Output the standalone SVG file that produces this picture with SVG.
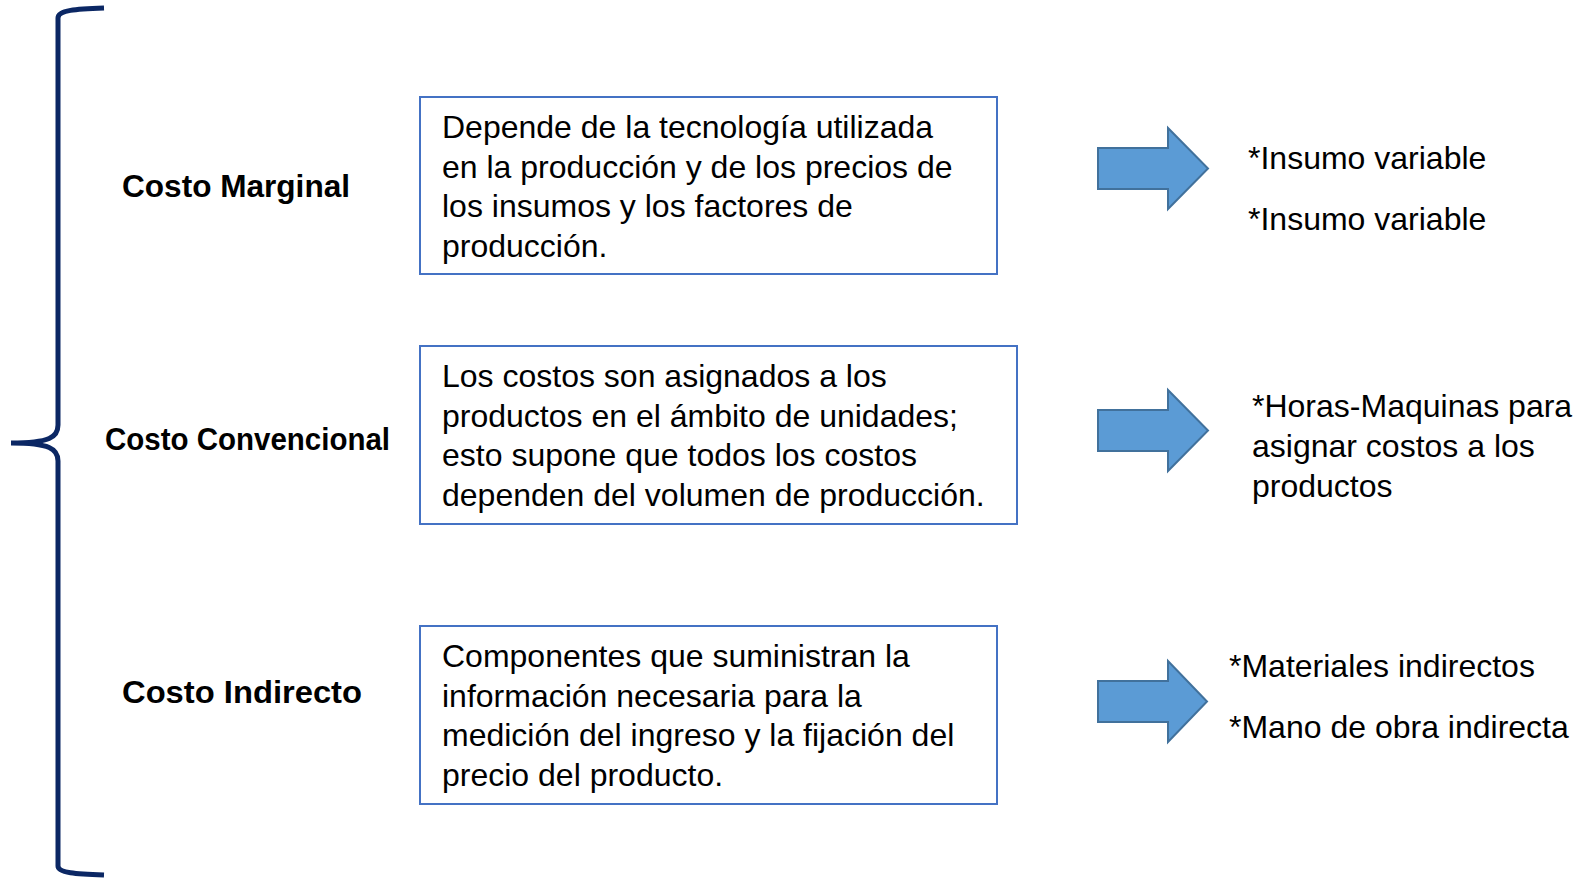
<svg xmlns="http://www.w3.org/2000/svg" width="1592" height="878" viewBox="0 0 1592 878">
<defs>
<style>
.bg{fill:#ffffff}
.brace{fill:none;stroke:#0B2764;stroke-width:5;stroke-linecap:butt}
.lbl{font-family:"Comic Sans MS","Liberation Sans",Arial,sans-serif;font-weight:bold;font-size:31px;fill:#000}
.box{fill:#ffffff;stroke:#4472C4;stroke-width:2}
.txt{font-family:"Liberation Sans",Arial,sans-serif;font-size:32px;fill:#000}
.arrow{fill:#5B9BD5;stroke:#41719C;stroke-width:2;stroke-linejoin:miter}
</style>
</defs>
<rect class="bg" x="0" y="0" width="1592" height="878"/>
<g id="brace">
<path class="brace" d="M104,8 C76,9 58,10 58,18 L58,425 C58,437 50,443 11,443 C50,443 58,449 58,461 L58,866 C58,873 76,874 104,875"/>
</g>
<g id="label-marginal"><text class="lbl" x="122" y="197" textLength="228" lengthAdjust="spacingAndGlyphs">Costo Marginal</text></g>
<g id="label-convencional"><text class="lbl" x="105" y="450" textLength="285" lengthAdjust="spacingAndGlyphs">Costo Convencional</text></g>
<g id="label-indirecto"><text class="lbl" x="122" y="703" textLength="240" lengthAdjust="spacingAndGlyphs">Costo Indirecto</text></g>
<g id="box-marginal">
<rect class="box" x="420" y="97" width="577" height="177"/>
<text class="txt" x="442" y="138">Depende de la tecnología utilizada</text>
<text class="txt" x="442" y="177.6">en la producción y de los precios de</text>
<text class="txt" x="442" y="217.2">los insumos y los factores de</text>
<text class="txt" x="442" y="256.8">producción.</text>
</g>
<g id="box-convencional">
<rect class="box" x="420" y="346" width="597" height="178"/>
<text class="txt" x="442" y="387">Los costos son asignados a los</text>
<text class="txt" x="442" y="426.6">productos en el ámbito de unidades;</text>
<text class="txt" x="442" y="466.2">esto supone que todos los costos</text>
<text class="txt" x="442" y="505.8">dependen del volumen de producción.</text>
</g>
<g id="box-indirecto">
<rect class="box" x="420" y="626" width="577" height="178"/>
<text class="txt" x="442" y="667">Componentes que suministran la</text>
<text class="txt" x="442" y="706.6">información necesaria para la</text>
<text class="txt" x="442" y="746.2">medición del ingreso y la fijación del</text>
<text class="txt" x="442" y="785.8">precio del producto.</text>
</g>
<g id="connectors">
<polygon class="arrow" points="1098,148 1168,148 1168,128 1208,168.5 1168,209 1168,189 1098,189"/>
<polygon class="arrow" points="1098,410 1168,410 1168,390 1208,430.5 1168,471 1168,451 1098,451"/>
<polygon class="arrow" points="1098,681 1168,681 1168,661 1207,701.5 1168,742 1168,722 1098,722"/>
</g>
<g id="result-marginal">
<text class="txt" x="1248" y="169">*Insumo variable</text>
<text class="txt" x="1248" y="230">*Insumo variable</text>
</g>
<g id="result-convencional">
<text class="txt" x="1252" y="417">*Horas-Maquinas para</text>
<text class="txt" x="1252" y="457">asignar costos a los</text>
<text class="txt" x="1252" y="497">productos</text>
</g>
<g id="result-indirecto">
<text class="txt" x="1229" y="677">*Materiales indirectos</text>
<text class="txt" x="1229" y="738">*Mano de obra indirecta</text>
</g>
</svg>
